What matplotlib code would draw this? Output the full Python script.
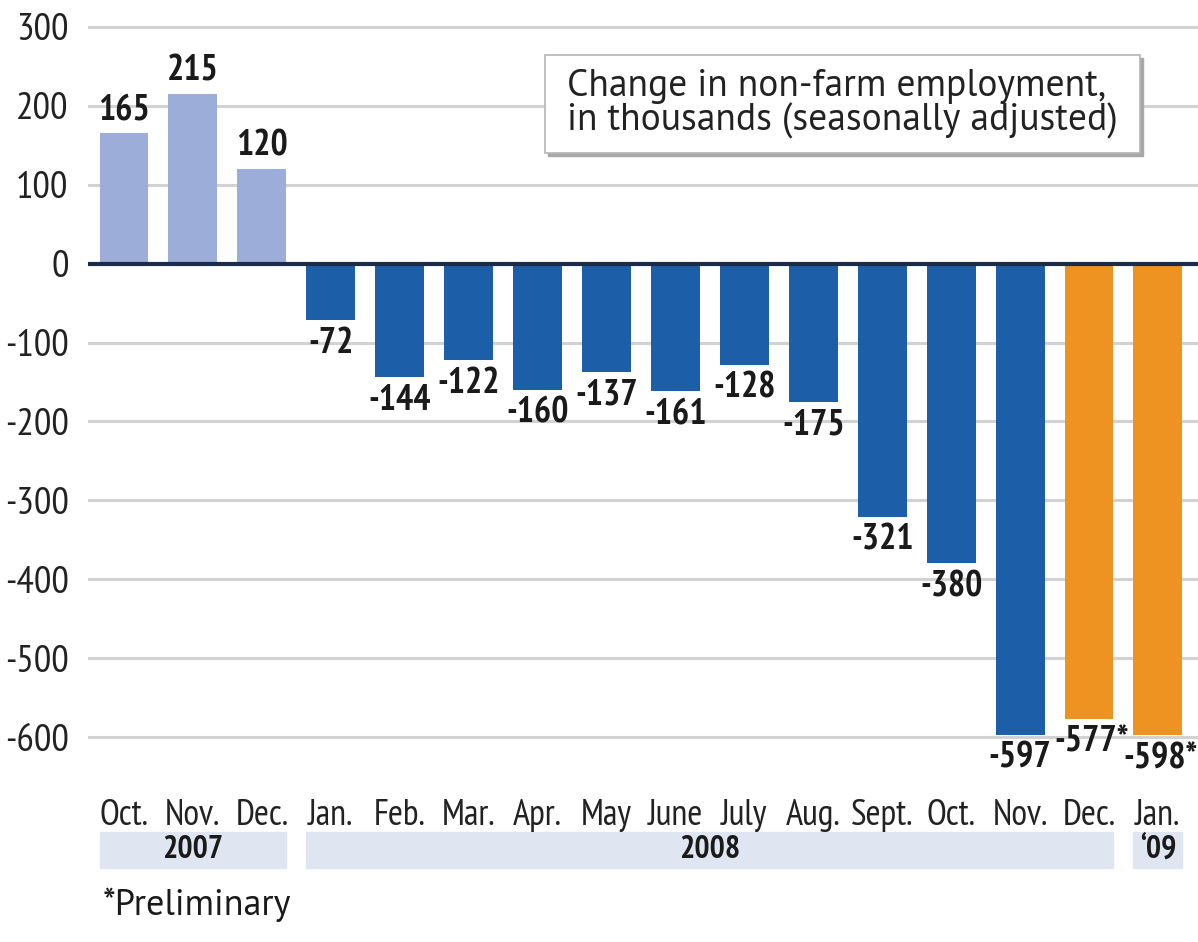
import matplotlib
matplotlib.use("Agg")
import matplotlib.pyplot as plt
from matplotlib.patches import Rectangle

# Monthly change in non-farm payrolls, thousands (seasonally adjusted)
months = ["Oct.", "Nov.", "Dec.", "Jan.", "Feb.", "Mar.", "Apr.", "May",
          "June", "July", "Aug.", "Sept.", "Oct.", "Nov.", "Dec.", "Jan."]
values = [165, 215, 120, -72, -144, -122, -160, -137, -161, -128, -175,
          -321, -380, -597, -577, -598]
preliminary = [False] * 14 + [True, True]
years = ["2007", "2008", "\u201809"]
year_counts = [3, 12, 1]
yticks = [300, 200, 100, 0, -100, -200, -300, -400, -500, -600]

C_2007 = "#9badd8"
C_2008 = "#1d5ea8"
C_PRELIM = "#ee9322"
C_BAND = "#e0e6f1"
C_GRID = "#d2d2d2"
C_ZERO = "#1b2b4a"

NARROW = ["PT Sans Narrow", "DejaVu Sans"]
REGULAR = ["PT Sans", "DejaVu Sans"]
plt.rcParams["font.family"] = NARROW

W, H = 1198, 942
fig = plt.figure(figsize=(W / 100, H / 100), dpi=100)
left_px = 88
ax = fig.add_axes([left_px / W, 0, 1 - left_px / W, 1])

px_per_bar = 68.93
xmin = -(124 - left_px) / px_per_bar
xmax = xmin + (W - left_px) / px_per_bar
ax.set_xlim(xmin, xmax)
ax.set_ylim(-859.8, 334.2)
for s in ax.spines.values():
    s.set_visible(False)

# grid
for t in yticks:
    if t != 0:
        ax.axhline(t, color=C_GRID, lw=2.2, zorder=0)

bar_w = 0.71
colors = []
for i, p in enumerate(preliminary):
    if p:
        colors.append(C_PRELIM)
    elif i < year_counts[0]:
        colors.append(C_2007)
    else:
        colors.append(C_2008)

xs = list(range(len(values)))
ax.bar(xs, values, width=bar_w, color=colors, zorder=2)
ax.axhline(0, color=C_ZERO, lw=3.0, zorder=3)

# value labels
for x, v, p in zip(xs, values, preliminary):
    txt = f"{v}" + ("*" if p else "")
    if v >= 0:
        ax.annotate(txt, (x, v), xytext=(0, 5), textcoords="offset points",
                    ha="center", va="bottom", fontsize=26, fontweight="bold",
                    color="#1a1a1a", zorder=4)
    else:
        dx = 2 if p else 0
        ax.annotate(txt, (x, v), xytext=(dx, -5), textcoords="offset points",
                    ha="center", va="top", fontsize=26, fontweight="bold",
                    color="#1a1a1a", zorder=4)

# y tick labels
ax.set_yticks(yticks)
ax.set_yticklabels([str(t) for t in yticks])
ax.tick_params(axis="y", length=0, pad=14, labelsize=28, labelcolor="#222222")
ax.set_xticks([])

# month labels
for x, m in zip(xs, months):
    ax.text(x, -699, m, ha="center", va="center", fontsize=26, color="#222222")

# year bands
start = 0
for yr, n in zip(years, year_counts):
    x0 = start - bar_w / 2
    x1 = start + n - 1 + bar_w / 2
    ax.add_patch(Rectangle((x0, -766), x1 - x0, 46, color=C_BAND,
                           zorder=1, clip_on=False))
    ax.text((x0 + x1) / 2, -743, yr, ha="center", va="center",
            fontsize=23, fontweight="bold", color="#1a1a1a")
    start += n

fig.text(103 / W, 1 - 905 / H, "*Preliminary", ha="left", va="center",
         fontsize=26, family=REGULAR, color="#1a1a1a")

# caption box with a soft drop shadow
bx0, by0, bx1, by1 = 545, 55, 1140, 153
bw, bh = (bx1 - bx0) / W, (by1 - by0) / H
shadow = Rectangle(((bx0 + 3) / W, 1 - (by1 + 3) / H), bw, bh,
                   transform=fig.transFigure, color="#a8a8a8", zorder=5)
box = Rectangle((bx0 / W, 1 - by1 / H), bw, bh,
                transform=fig.transFigure, facecolor="white", edgecolor="#b5b5b5",
                lw=1.2, zorder=6)
fig.patches.extend([shadow, box])
fig.text((bx0 + bx1) / 2 / W, 1 - (by0 + by1) / 2 / H,
         "Change in non-farm employment,\nin thousands (seasonally adjusted)",
         ha="center", va="center", multialignment="left", fontsize=27,
         linespacing=0.95, family=REGULAR, color="#222222", zorder=7)

fig.savefig("out.png", dpi=100)
